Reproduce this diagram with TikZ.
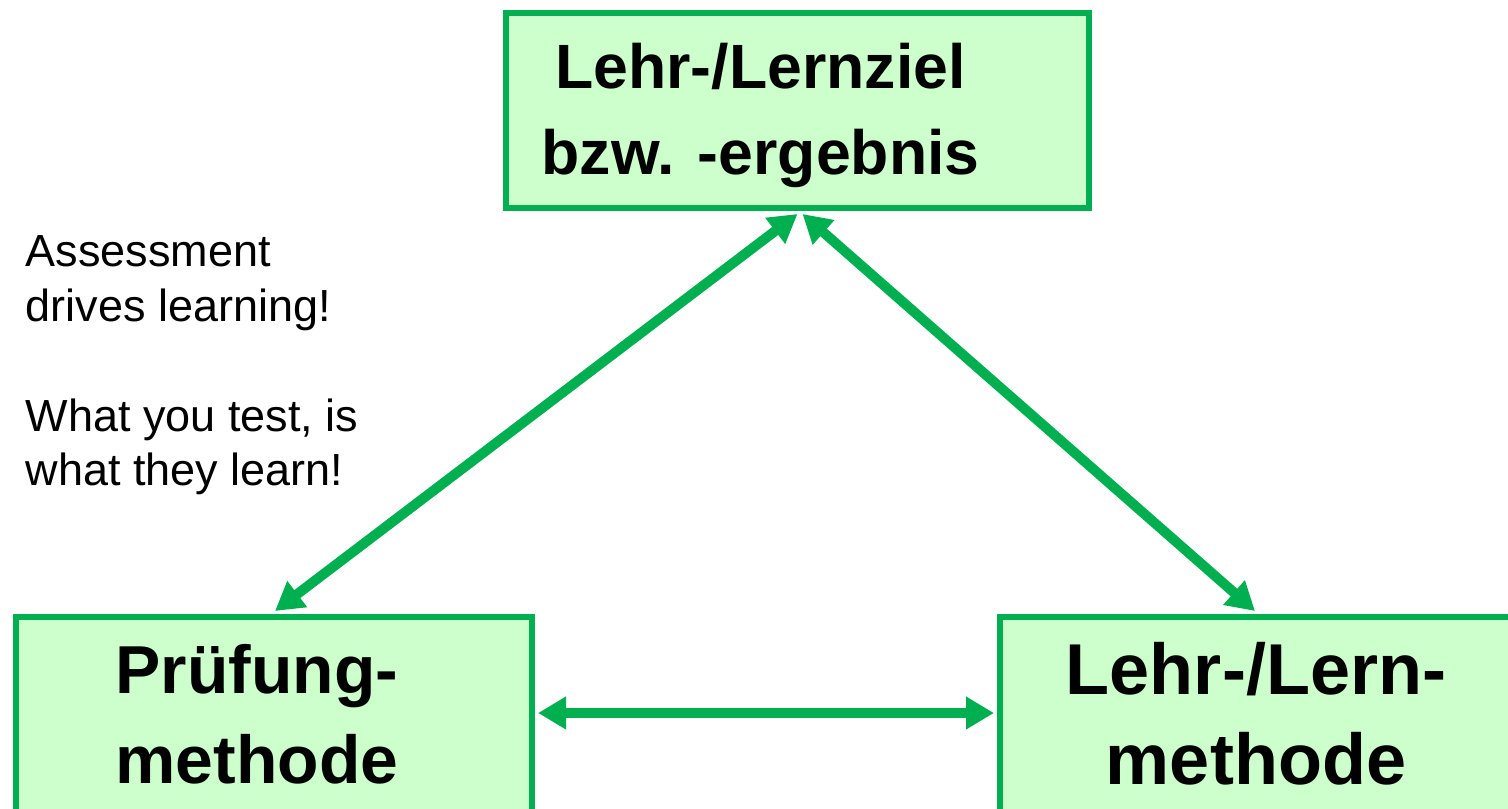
\documentclass[tikz,border=0pt]{standalone}
\usepackage{fontspec}
\setmainfont{Liberation Sans}
\usepackage{tikz}
\usetikzlibrary{arrows.meta,positioning}

\definecolor{boxgreen}{RGB}{0,176,80}
\definecolor{boxfill}{RGB}{204,255,204}

\tikzset{
  box/.style={draw=boxgreen,fill=boxfill,line width=0.06cm,rectangle,inner sep=0pt},
  boxtext/.style={font=\bfseries,align=center,inner sep=0pt},
  link/.style={boxgreen,line width=0.1cm,{Triangle[length=0.28cm,width=0.31cm]}-{Triangle[length=0.28cm,width=0.31cm]}}
}

\begin{document}
\begin{tikzpicture}
   \useasboundingbox (0,0) rectangle (15.08,-8.09);
   \clip (0,0) rectangle (15.08,-8.09);
   \node[box,minimum width=5.83cm,minimum height=1.95cm,
         label={[boxtext,font=\fontsize{17.8}{24.2}\selectfont\bfseries,xshift=-0.37cm,yshift=-0.05cm]center:Lehr-/Lernziel\\bzw. -ergebnis}] (goal) at (7.975,-1.105) {};
   \node[box,minimum width=5.16cm,minimum height=1.96cm,
         label={[boxtext,font=\fontsize{19.3}{25.5}\selectfont\bfseries,xshift=-0.17cm,yshift=0.01cm]center:Prüfung-\\methode}] (exam) at (2.74,-7.15) {};
   \node[box,minimum width=5.16cm,minimum height=1.96cm,
         label={[boxtext,font=\fontsize{20.5}{25.5}\selectfont\bfseries,xshift=-0.02cm,yshift=0.01cm]center:Lehr-/Lern-\\methode}] (teach) at (12.58,-7.15) {};
   \node[anchor=north west,align=left,inner sep=0pt,font=\fontsize{12.8}{15.6}\selectfont] (note) at (0.25,-2.35)
     {Assessment\\drives learning!\\[15.6pt]What you test, is\\what they learn!};
   \draw[link] ([yshift=-0.03cm]goal.south) -- ([yshift=0.03cm,xshift=0.01cm]exam.north);
   \draw[link] ([yshift=-0.03cm,xshift=0.05cm]goal.south) -- ([yshift=0.03cm,xshift=-0.03cm]teach.north);
   \draw[link] ([xshift=0.03cm,yshift=0.02cm]exam.east) -- ([xshift=-0.03cm,yshift=0.02cm]teach.west);
\end{tikzpicture}
\end{document}
